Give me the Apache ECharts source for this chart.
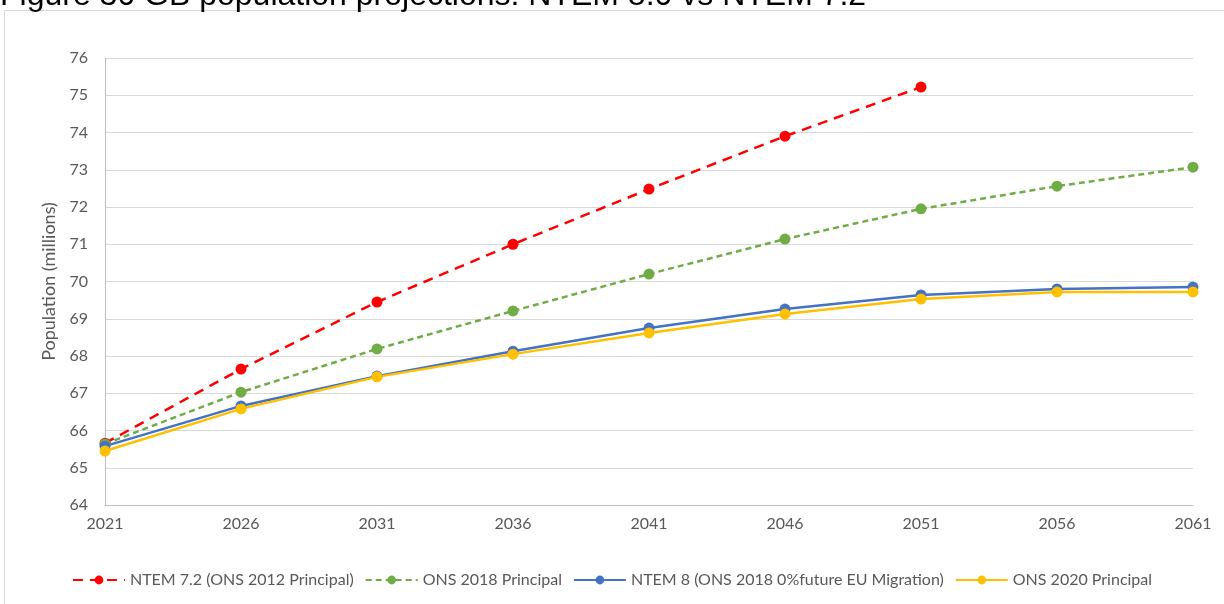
<!DOCTYPE html>
<html>
<head>
<meta charset="utf-8">
<style>
  html, body { margin: 0; padding: 0; background: #ffffff; }
  #chart { width: 1224px; height: 604px; }
</style>
<script src="https://cdn.jsdelivr.net/npm/echarts@6/dist/echarts.min.js"></script>
</head>
<body>
<div id="chart"></div>
<script>
// Projection years (category axis)
const years = ['2021', '2026', '2031', '2036', '2041', '2046', '2051', '2056', '2061'];

// GB population projections, millions
const ntem72 = [65.66, 67.65, 69.45, 71.0, 72.48, 73.9, 75.22, null, null];
const ons2018 = [65.64, 67.03, 68.19, 69.21, 70.2, 71.14, 71.95, 72.56, 73.07];
const ntem8 = [65.58, 66.66, 67.46, 68.13, 68.75, 69.26, 69.64, 69.8, 69.85];
const ons2020 = [65.45, 66.58, 67.44, 68.05, 68.62, 69.13, 69.53, 69.72, 69.72];

const seriesNames = [
  'NTEM 7.2 (ONS 2012 Principal)',
  'ONS 2018 Principal',
  'NTEM 8 (ONS 2018 0%future EU Migration)',
  'ONS 2020 Principal'
];

const axisFont = 'Lato, "Liberation Sans", sans-serif';
const chart = echarts.init(document.getElementById('chart'), null, { renderer: 'canvas' });

function lineSeries(name, data, color, type, width) {
  return {
    name: name,
    type: 'line',
    data: data,
    symbol: 'circle',
    symbolSize: 11,
    connectNulls: false,
    itemStyle: { color: color },
    lineStyle: { color: color, width: width, type: type },
    emphasis: { disabled: true },
    animation: false
  };
}

chart.setOption({
  animation: false,
  graphic: [
    {
      type: 'rect',
      shape: { x: 4.5, y: 10.5, width: 1240, height: 620 },
      style: { fill: 'none', stroke: '#d9d9d9', lineWidth: 1 },
      silent: true
    },
    {
      type: 'text',
      x: 0,
      y: 12,
      style: {
        text: 'Figure 30 GB population projections: NTEM 8.0 vs NTEM 7.2',
        font: '32px "Liberation Sans", Arial, sans-serif',
        lineHeight: 32,
        fill: '#000000',
        verticalAlign: 'bottom'
      },
      silent: true
    }
  ],
  grid: { left: 105, right: 31, top: 58, bottom: 99, containLabel: false },
  legend: {
    bottom: 11,
    left: 'center',
    itemWidth: 52,
    itemHeight: 11,
    itemGap: 11,
    textStyle: { color: '#595959', fontSize: 16, fontFamily: axisFont },
    data: seriesNames
  },
  xAxis: {
    type: 'category',
    data: years,
    boundaryGap: false,
    axisLine: { show: true, lineStyle: { color: '#bfbfbf', width: 1 } },
    axisTick: { show: false },
    axisLabel: { color: '#595959', fontSize: 16, fontFamily: axisFont, margin: 11 },
    splitLine: { show: false }
  },
  yAxis: {
    type: 'value',
    min: 64,
    max: 76,
    interval: 1,
    name: 'Population (millions)',
    nameLocation: 'middle',
    nameGap: 37,
    nameTextStyle: { color: '#595959', fontSize: 18, fontFamily: axisFont },
    axisLine: { show: true, lineStyle: { color: '#bfbfbf', width: 1 } },
    axisTick: { show: false },
    axisLabel: { color: '#595959', fontSize: 16, fontFamily: axisFont, margin: 17 },
    splitLine: { show: true, lineStyle: { color: '#d9d9d9', width: 1 } }
  },
  series: [
    lineSeries(seriesNames[0], ntem72, '#ff0000', [10, 7], 2.5),
    lineSeries(seriesNames[1], ons2018, '#70ad47', [6, 4], 2.5),
    lineSeries(seriesNames[2], ntem8, '#4472c4', 'solid', 2.5),
    lineSeries(seriesNames[3], ons2020, '#ffc000', 'solid', 2.5)
  ]
});
</script>
</body>
</html>
